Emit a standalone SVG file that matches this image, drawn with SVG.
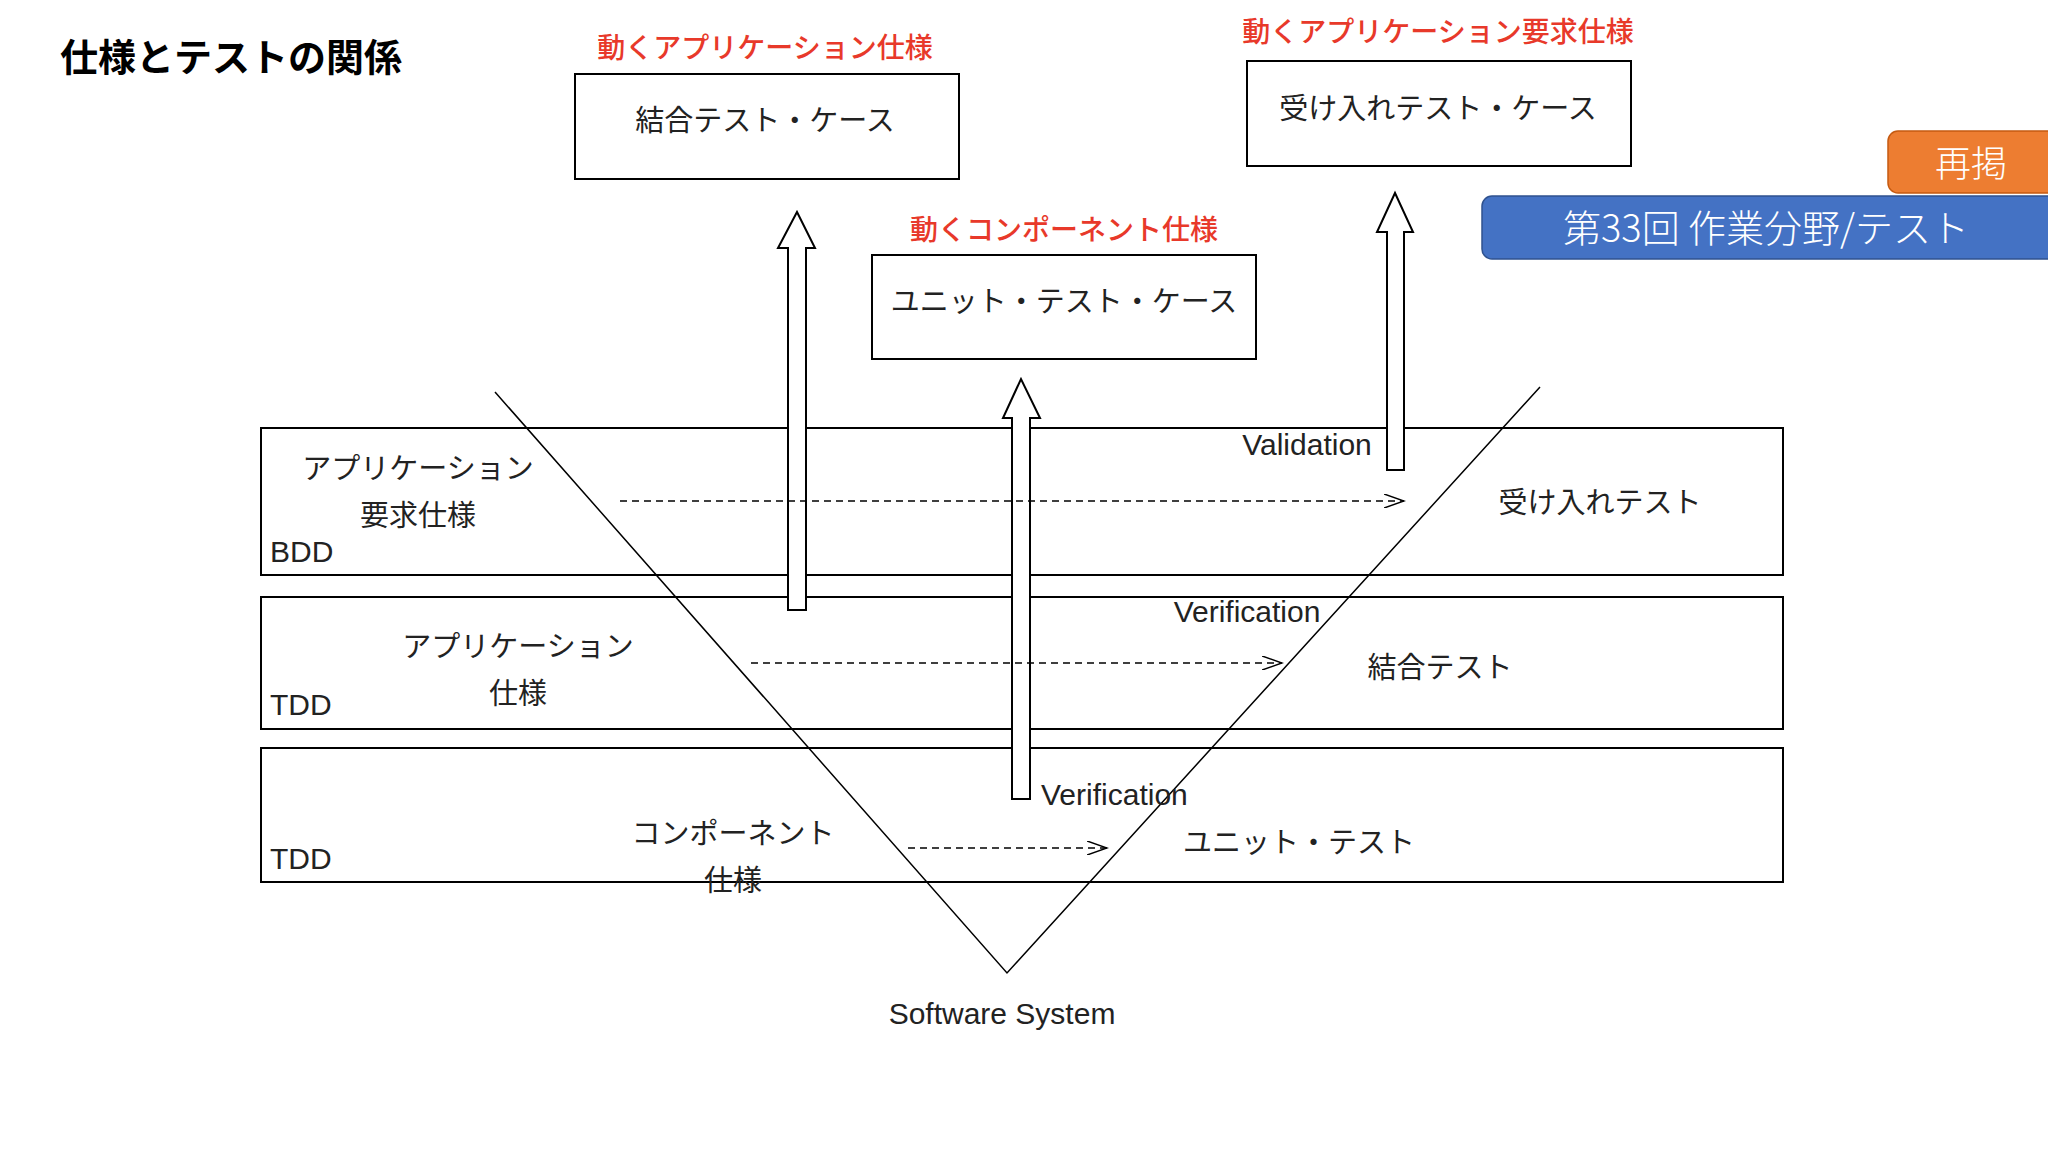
<svg xmlns="http://www.w3.org/2000/svg" width="2048" height="1152" viewBox="0 0 2048 1152">
<defs>
<style>
text{font-family:"Noto Sans CJK JP","Liberation Sans",sans-serif;dominant-baseline:central;text-anchor:middle;fill:#222}
.j{font-size:29px}
.r{font-size:28px;fill:#e8392a;font-weight:500}
.e{font-family:"Liberation Sans","Noto Sans CJK JP",sans-serif;font-size:30px}
.l{text-anchor:start}
.box{fill:#fff;stroke:#000;stroke-width:2}
.ar{fill:#fff;stroke:#000;stroke-width:2}
.d{stroke:#000;stroke-width:1.5;stroke-dasharray:7 5;fill:none}
</style>
<marker id="oa" markerWidth="22" markerHeight="14" refX="20" refY="7" orient="auto" markerUnits="userSpaceOnUse"><path d="M0,0 L20,7 L0,14" fill="none" stroke="#000" stroke-width="1.5"/></marker>
</defs>
<rect width="2048" height="1152" fill="#fff"/>
<text x="60" y="54" class="l" style="font-size:38px;font-weight:bold;fill:#000">仕様とテストの関係</text>

<g id="bands">
<rect class="box" x="261" y="428" width="1522" height="147"/>
<rect class="box" x="261" y="597" width="1522" height="132"/>
<rect class="box" x="261" y="748" width="1522" height="134"/>
</g>
<g id="vshape"><polyline points="495,392 1007,973 1540,387" fill="none" stroke="#000" stroke-width="1.5"/></g>

<g id="case-integration">
<text x="765" y="46" class="r">動くアプリケーション仕様</text>
<rect class="box" x="575" y="74" width="384" height="105"/>
<text x="765" y="118" class="j">結合テスト・ケース</text>
</g>
<g id="case-acceptance">
<text x="1438" y="30" class="r">動くアプリケーション要求仕様</text>
<rect class="box" x="1247" y="61" width="384" height="105"/>
<text x="1438" y="106" class="j">受け入れテスト・ケース</text>
</g>
<g id="case-unit">
<text x="1064" y="228" class="r">動くコンポーネント仕様</text>
<rect class="box" x="872" y="255" width="384" height="104"/>
<text x="1064" y="299" class="j">ユニット・テスト・ケース</text>
</g>

<g id="badge-orange">
<rect x="1888" y="131" width="180" height="62" rx="10" fill="#ed7d31" stroke="#c55a11" stroke-width="1.5"/>
<text x="1971" y="161" style="font-size:36px;fill:#fff;font-weight:300">再掲</text>
</g>
<g id="badge-blue">
<rect x="1482" y="196" width="586" height="63" rx="10" fill="#4472c4" stroke="#2f528f" stroke-width="1.5"/>
<text x="1766" y="225" style="font-size:38px;fill:#fff;font-weight:300">第33回 作業分野/テスト</text>
</g>

<g id="labels">
<text x="418" y="466" class="j">アプリケーション</text>
<text x="418" y="513" class="j">要求仕様</text>
<text x="270" y="551" class="e l">BDD</text>
<text x="1600" y="500" class="j">受け入れテスト</text>
<text x="1307" y="444" class="e">Validation</text>
<text x="518" y="644" class="j">アプリケーション</text>
<text x="518" y="691" class="j">仕様</text>
<text x="270" y="704" class="e l">TDD</text>
<text x="1247" y="611" class="e">Verification</text>
<text x="1440" y="665" class="j">結合テスト</text>
<text x="733" y="831" class="j">コンポーネント</text>
<text x="733" y="878" class="j">仕様</text>
<text x="270" y="858" class="e l">TDD</text>
<text x="1041" y="794" class="e l">Verification</text>
<text x="1299" y="840" class="j">ユニット・テスト</text>
<text x="1002" y="1013" class="e">Software System</text>
</g>

<g id="connectors">
<path class="ar" d="M788,610 L788,248 L778,248 L797,212 L815,248 L806,248 L806,610 Z"/>
<path class="ar" d="M1012,799 L1012,418 L1003,418 L1021,379 L1040,418 L1030,418 L1030,799 Z"/>
<path class="ar" d="M1387,470 L1387,232 L1377,232 L1395,193 L1413,232 L1404,232 L1404,470 Z"/>
<line class="d" x1="620" y1="501" x2="1404" y2="501" marker-end="url(#oa)"/>
<line class="d" x1="751" y1="663" x2="1282" y2="663" marker-end="url(#oa)"/>
<line class="d" x1="908" y1="848" x2="1107" y2="848" marker-end="url(#oa)"/>
</g>
</svg>
